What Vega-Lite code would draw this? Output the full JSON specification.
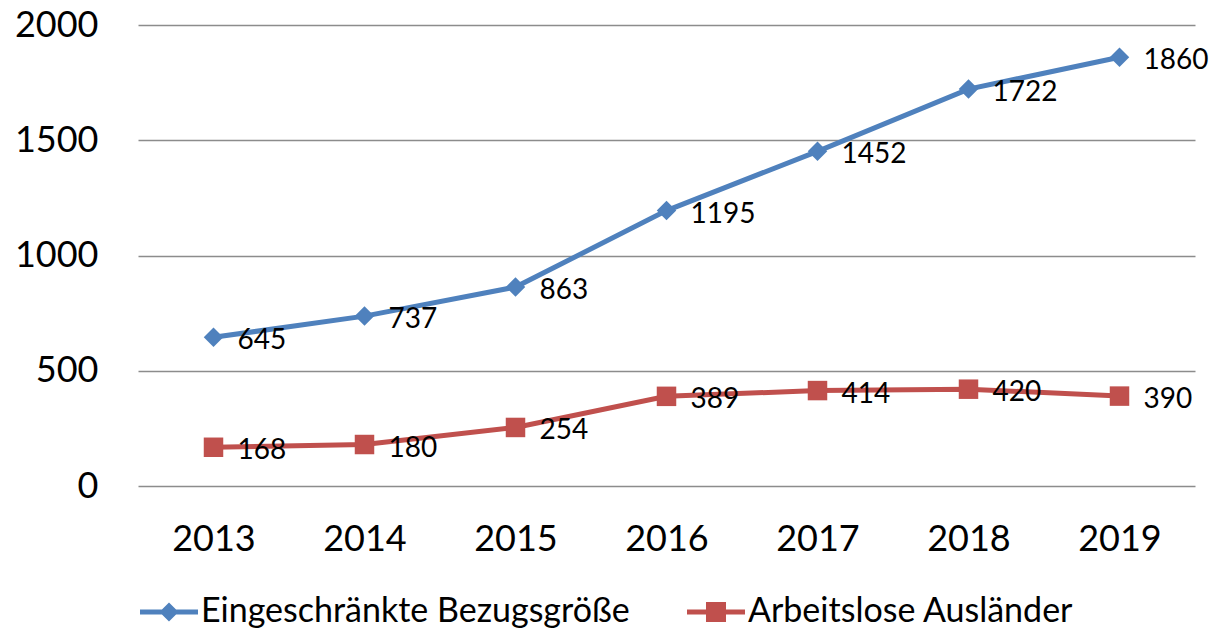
{
  "$schema": "https://vega.github.io/schema/vega-lite/v6.json",
  "width": 1057,
  "height": 461,
  "autosize": {"type": "none"},
  "padding": {"left": 138, "top": 25, "right": 19, "bottom": 143},
  "background": "white",
  "config": {
    "view": {"stroke": null},
    "font": "Lato",
    "text": {"font": "Lato"}
  },
  "data": {
    "values": [
      {"year": "2013", "series": "Eingeschränkte Bezugsgröße", "value": 645},
      {"year": "2014", "series": "Eingeschränkte Bezugsgröße", "value": 737},
      {"year": "2015", "series": "Eingeschränkte Bezugsgröße", "value": 863},
      {"year": "2016", "series": "Eingeschränkte Bezugsgröße", "value": 1195},
      {"year": "2017", "series": "Eingeschränkte Bezugsgröße", "value": 1452},
      {"year": "2018", "series": "Eingeschränkte Bezugsgröße", "value": 1722},
      {"year": "2019", "series": "Eingeschränkte Bezugsgröße", "value": 1860},
      {"year": "2013", "series": "Arbeitslose Ausländer", "value": 168},
      {"year": "2014", "series": "Arbeitslose Ausländer", "value": 180},
      {"year": "2015", "series": "Arbeitslose Ausländer", "value": 254},
      {"year": "2016", "series": "Arbeitslose Ausländer", "value": 389},
      {"year": "2017", "series": "Arbeitslose Ausländer", "value": 414},
      {"year": "2018", "series": "Arbeitslose Ausländer", "value": 420},
      {"year": "2019", "series": "Arbeitslose Ausländer", "value": 390}
    ]
  },
  "encoding": {
    "x": {
      "field": "year",
      "type": "ordinal",
      "scale": {"type": "point", "padding": 0.5},
      "axis": {
        "title": null,
        "labelAngle": 0,
        "labelFont": "Lato",
        "labelFontSize": 36,
        "labelColor": "#000000",
        "ticks": false,
        "tickSize": 0,
        "labelPadding": 36,
        "domain": false,
        "grid": false
      }
    },
    "y": {
      "field": "value",
      "type": "quantitative",
      "scale": {"domain": [0, 2000], "nice": false},
      "axis": {
        "title": null,
        "values": [0, 500, 1000, 1500, 2000],
        "format": "d",
        "labelFont": "Lato",
        "labelFontSize": 36,
        "labelColor": "#000000",
        "ticks": false,
        "tickSize": 0,
        "labelPadding": 40,
        "domain": false,
        "grid": true,
        "gridColor": "#8c8c8c",
        "gridWidth": 1.5
      }
    },
    "color": {
      "field": "series",
      "type": "nominal",
      "scale": {
        "domain": ["Eingeschränkte Bezugsgröße", "Arbeitslose Ausländer"],
        "range": ["#4F81BD", "#C0504D"]
      },
      "legend": {
        "title": null,
        "orient": "none",
        "direction": "horizontal",
        "legendX": 2,
        "legendY": 558,
        "padding": 0,
        "symbolSize": 3364,
        "labelFont": "Lato",
        "labelFontSize": 34,
        "labelColor": "#000000",
        "labelOffset": 3,
        "labelLimit": 1000,
        "columnPadding": 57,
        "encode": {
          "symbols": {
            "update": {
              "shape": {"signal": "datum.value === 'Eingeschränkte Bezugsgröße' ? 'M-1,-0.086H1V0.086H-1Z M0,-0.33L0.33,0L0,0.33L-0.33,0Z' : 'M-1,-0.086H1V0.086H-1Z M-0.345,-0.345H0.345V0.345H-0.345Z'"},
              "fill": {"signal": "datum.value === 'Eingeschränkte Bezugsgröße' ? '#4F81BD' : '#C0504D'"},
              "fillOpacity": {"value": 1},
              "opacity": {"value": 1},
              "strokeWidth": {"value": 0}
            }
          }
        }
      }
    }
  },
  "layer": [
    {
      "mark": {"type": "line", "strokeWidth": 5}
    },
    {
      "transform": [{"filter": "datum.series === 'Eingeschränkte Bezugsgröße'"}],
      "mark": {"type": "point", "filled": true, "opacity": 1, "shape": "diamond", "size": 380}
    },
    {
      "transform": [{"filter": "datum.series === 'Arbeitslose Ausländer'"}],
      "mark": {"type": "point", "filled": true, "opacity": 1, "shape": "square", "size": 380}
    },
    {
      "mark": {
        "type": "text",
        "align": "left",
        "baseline": "middle",
        "dx": 24,
        "dy": 4,
        "font": "Lato",
        "fontSize": 28,
        "color": "#000000"
      },
      "encoding": {
        "text": {"field": "value", "type": "quantitative"},
        "color": {"value": "#000000"}
      }
    }
  ]
}
